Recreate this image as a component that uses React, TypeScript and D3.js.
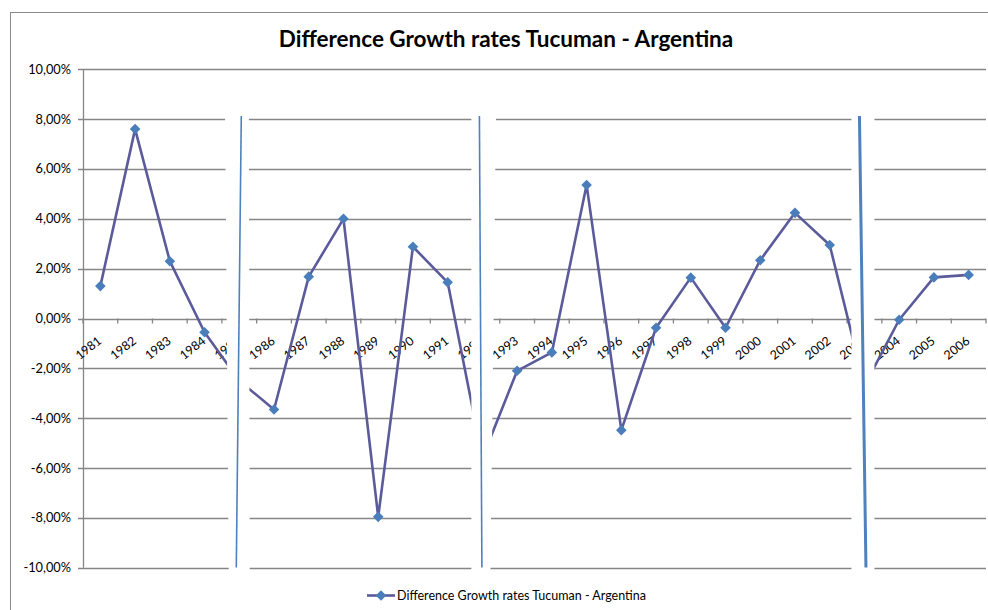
import React from "react"
import * as d3 from "d3"

// category labels and series (percent)
const years = [
  "1981", "1982", "1983", "1984", "1985", "1986", "1987", "1988", "1989",
  "1990", "1991", "1992", "1993", "1994", "1995", "1996", "1997", "1998",
  "1999", "2000", "2001", "2002", "2003", "2004", "2005", "2006"
]
const diffGrowth = [
  1.3, 7.6, 2.3, -0.55, -2.5, -3.65, 1.68, 4.0, -7.96,
  2.88, 1.45, -5.6, -2.1, -1.36, 5.36, -4.48, -0.37, 1.64,
  -0.37, 2.34, 4.24, 2.95, -2.7, -0.05, 1.65, 1.75
]
const yTickValues = [-10, -8, -6, -4, -2, 0, 2, 4, 6, 8, 10]
// years hidden behind the white "axis break" strips
const breakYears = ["1985", "1992", "2003"]

const seriesName = "Difference Growth rates Tucuman - Argentina"
const title = "Difference Growth rates Tucuman - Argentina"

const font = "Lato, 'Open Sans', sans-serif"

function fmtPct(v: number) {
  return d3.format(".2f")(v).replace(".", ",").replace("−", "-") + "%"
}

export default function App() {
  const W = 988
  const H = 610
  const margin = { left: 83, right: 2, top: 69.3, bottom: 42.3 }

  const x = d3
    .scaleBand<string>()
    .domain(years)
    .range([margin.left, W - margin.right])
  const cx = (yr: string) => (x(yr) as number) + x.bandwidth() / 2

  const y = d3
    .scaleLinear()
    .domain([-10, 10])
    .range([H - margin.bottom, margin.top])

  const points = years.map((yr, i) => [cx(yr), y(diffGrowth[i])] as [number, number])
  const linePath = d3.line()(points) as string
  const diamond = d3.symbol(d3.symbolSquare, 56)() as string

  // white strips with a slanted blue line, drawn over the plot like a hand-made break
  const breaks = [
    { yr: breakYears[0], topL: -14.5, topR: 9.5, botL: -10.5, botR: 10.5, lt: 2, lb: -3, w: 1.6 },
    { yr: breakYears[1], topL: -11, topR: 14, botL: -11, botR: 8, lt: -3, lb: -0.5, w: 1.6 },
    { yr: breakYears[2], topL: -13, topR: 10, botL: -13, botR: 10, lt: -5, lb: 1.5, w: 3 }
  ]
  const bTop = 80
  const bBot = 575
  const blueTop = 116
  const blueBot = 567.5

  const xTickPos = years.map(yr => x(yr) as number).concat([W - margin.right])

  return (
    <svg
      width={W}
      height={H}
      style={{ position: "absolute", left: 0, top: 0, background: "#fff" }}
      fontFamily={font}
    >
      <rect x={10.5} y={12.5} width={1000} height={620} fill="#fff" stroke="#8a8a8a" strokeWidth={1} />

      <text x={506} y={47} textAnchor="middle" fontSize={22.5} fontWeight="bold" fill="#000">
        {title}
      </text>

      {/* gridlines + y ticks */}
      {yTickValues.map(v => (
        <g key={v}>
          <line
            x1={margin.left - 5}
            x2={W - margin.right}
            y1={Math.round(y(v)) + 0.5}
            y2={Math.round(y(v)) + 0.5}
            stroke="#868686"
            strokeWidth={1.3}
          />
          <text x={71} y={y(v) + 4.5} textAnchor="end" fontSize={12.8} fill="#000">
            {fmtPct(v)}
          </text>
        </g>
      ))}
      <line
        x1={margin.left + 0.5}
        x2={margin.left + 0.5}
        y1={y(10)}
        y2={y(-10)}
        stroke="#868686"
        strokeWidth={1.3}
      />

      {/* category ticks on the 0% line */}
      {xTickPos.map((px, i) => (
        <line key={i} x1={px} x2={px} y1={y(0)} y2={y(0) + 5} stroke="#868686" strokeWidth={1.3} />
      ))}
      {years.map(yr => (
        <text
          key={yr}
          transform={`translate(${cx(yr) + 2},${y(0) + 24}) rotate(-38)`}
          textAnchor="end"
          fontSize={12.4}
          fill="#000"
        >
          {yr}
        </text>
      ))}

      <path d={linePath} fill="none" stroke="#5b5b9b" strokeWidth={2.6} strokeLinejoin="round" />
      {points.map((p, i) => (
        <path key={i} d={diamond} transform={`translate(${p[0]},${p[1]}) rotate(45)`} fill="#4a7ebb" />
      ))}

      {breaks.map(b => {
        const c = cx(b.yr)
        const poly = [
          [c + b.topL, bTop],
          [c + b.topR, bTop],
          [c + b.botR, bBot],
          [c + b.botL, bBot]
        ]
          .map(p => p.join(","))
          .join(" ")
        return (
          <g key={b.yr}>
            <polygon points={poly} fill="#fff" />
            <line
              x1={c + b.lt}
              y1={blueTop}
              x2={c + b.lb}
              y2={blueBot}
              stroke="#4f81bd"
              strokeWidth={b.w}
            />
          </g>
        )
      })}

      {/* legend */}
      <g transform="translate(367,595.5)">
        <line x1={0} x2={28} y1={0} y2={0} stroke="#5b5b9b" strokeWidth={2.6} />
        <path d={diamond} transform="translate(14,0) rotate(45)" fill="#4a7ebb" />
        <text x={30} y={4.5} fontSize={12.5} fill="#000">
          {seriesName}
        </text>
      </g>
    </svg>
  )
}
